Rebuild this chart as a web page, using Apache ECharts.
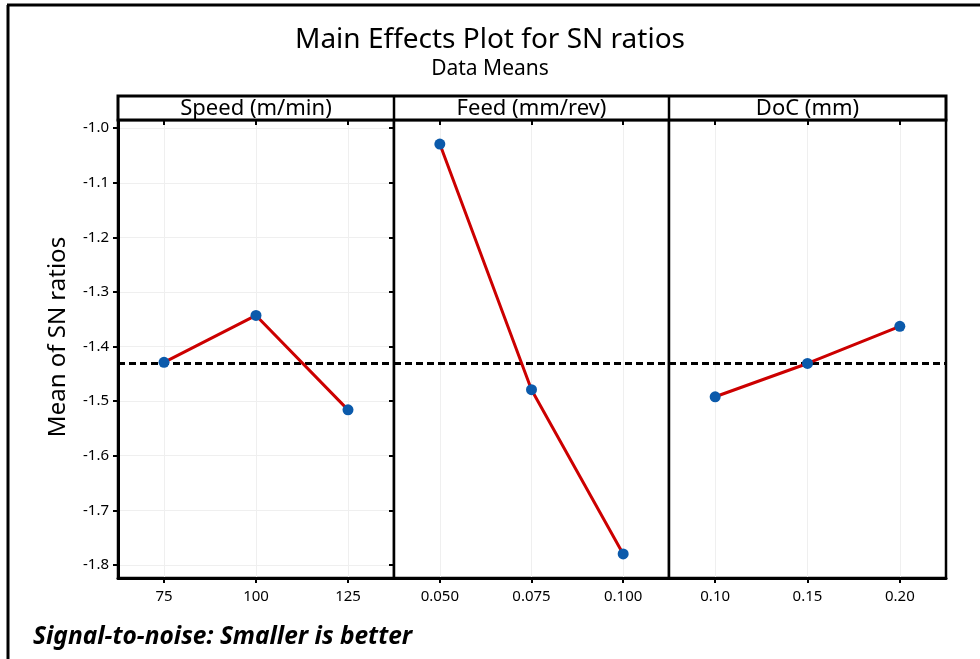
<!DOCTYPE html>
<html>
<head>
<meta charset="utf-8">
<script src="https://cdn.jsdelivr.net/npm/echarts@6/dist/echarts.min.js"></script>
<style>html,body{margin:0;padding:0;background:#fff}#c{width:980px;height:659px}</style>
</head>
<body>
<div id="c"></div>
<script>
const panelTitles = ['Speed (m/min)', 'Feed (mm/rev)', 'DoC (mm)'];
const speedLevels = [75, 100, 125];
const speedSN = [-1.429, -1.343, -1.516];
const feedLevels = [0.050, 0.075, 0.100];
const feedSN = [-1.029, -1.479, -1.780];
const docLevels = [0.10, 0.15, 0.20];
const docSN = [-1.492, -1.431, -1.363];
const yTicks = [-1.8, -1.7, -1.6, -1.5, -1.4, -1.3, -1.2, -1.1, -1.0];
const xTickDecimals = [0, 3, 2];

const allVals = speedSN.concat(feedSN, docSN);
const grandMean = allVals.reduce((a, b) => a + b, 0) / allVals.length;

const levels = [speedLevels, feedLevels, docLevels];
const values = [speedSN, feedSN, docSN];

const FONT = 'Noto Sans';
const yMin = -1.824, yMax = -0.985;
const gridL = [118, 394, 669], gridW = [276, 275, 277];
const gridTop = 120, gridH = 458;

const grids = [], xAxes = [], yAxes = [], series = [];
for (let i = 0; i < 3; i++) {
  const lv = levels[i];
  const step = lv[1] - lv[0];
  const xmin = lv[0] - step / 2, xmax = lv[2] + step / 2;
  grids.push({ left: gridL[i], top: gridTop, width: gridW[i], height: gridH, show: true,
    borderColor: '#000', borderWidth: 2.5, backgroundColor: '#fff', containLabel: false });
  xAxes.push({ type: 'value', gridIndex: i, min: xmin, max: xmax,
    axisLine: { show: true, onZero: false, lineStyle: { color: '#000', width: 3 } },
    axisTick: { show: true, customValues: lv, length: 5, lineStyle: { color: '#000', width: 2 } },
    axisLabel: { show: true, customValues: lv, color: '#000', fontFamily: FONT, fontSize: 15, margin: 11,
      formatter: v => Number(v).toFixed(xTickDecimals[i]) },
    splitLine: { show: true, lineStyle: { color: '#efefef', width: 1 } }
  });
  yAxes.push({ type: 'value', gridIndex: i, min: yMin, max: yMax, show: i === 0,
    name: i === 0 ? 'Mean of SN ratios' : '', nameLocation: 'middle', nameGap: 48,
    nameTextStyle: { color: '#000', fontFamily: FONT, fontSize: 24, padding: [0, 0, 0, 24] },
    axisLine: { show: true, lineStyle: { color: '#000', width: 3 } },
    axisTick: { show: true, customValues: yTicks, length: 5, lineStyle: { color: '#000', width: 2 } },
    axisLabel: { show: true, customValues: yTicks, color: '#000', fontFamily: FONT, fontSize: 15, margin: 9,
      formatter: v => Number(v).toFixed(1) },
    splitLine: { show: true, lineStyle: { color: '#efefef', width: 1 } }
  });
  series.push({ type: 'line', xAxisIndex: i, yAxisIndex: i,
    data: lv.map((x, k) => [x, values[i][k]]),
    symbol: 'circle', symbolSize: 11,
    itemStyle: { color: '#0b5aab' },
    lineStyle: { color: '#cc0000', width: 3 },
    z: 5,
    markLine: { silent: true, symbol: 'none', label: { show: false },
      lineStyle: { color: '#000', type: [7, 4], width: 3 },
      data: [{ yAxis: grandMean }] }
  });
}
// inner halves of crossing ticks
for (let i = 0; i < 3; i++) {
  const lv = levels[i];
  const step = lv[1] - lv[0];
  xAxes.push({ type: 'value', gridIndex: i, min: lv[0] - step / 2, max: lv[2] + step / 2,
    axisLine: { show: false }, splitLine: { show: false }, axisLabel: { show: false },
    axisTick: { show: true, inside: true, customValues: lv, length: 5, lineStyle: { color: '#000', width: 2 } } });
}
yAxes.push({ type: 'value', gridIndex: 0, min: yMin, max: yMax,
  axisLine: { show: false }, splitLine: { show: false }, axisLabel: { show: false },
  axisTick: { show: true, inside: true, customValues: yTicks, length: 5, lineStyle: { color: '#000', width: 2 } } });

const graphics = [
  { type: 'line', shape: { x1: 7, y1: 5, x2: 980, y2: 5 }, style: { stroke: '#000', lineWidth: 3 }, z: 100 },
  { type: 'line', shape: { x1: 8, y1: 5, x2: 8, y2: 659 }, style: { stroke: '#000', lineWidth: 3 }, z: 100 },
  { type: 'rect', shape: { x: 118, y: 96, width: 828, height: 24 }, style: { fill: '#fff', stroke: '#000', lineWidth: 3 }, z: 100 },
  { type: 'line', shape: { x1: 394, y1: 96, x2: 394, y2: 120 }, style: { stroke: '#000', lineWidth: 2.5 }, z: 101 },
  { type: 'line', shape: { x1: 669, y1: 96, x2: 669, y2: 120 }, style: { stroke: '#000', lineWidth: 2.5 }, z: 101 },
  { type: 'text', x: 33, y: 637, z: 100,
    style: { text: 'Signal-to-noise: Smaller is better', fill: '#000', font: 'italic bold 24.5px "Noto Sans"', verticalAlign: 'middle' } }
];
for (let i = 0; i < 3; i++) {
  graphics.push({ type: 'text', z: 102, x: gridL[i] + gridW[i] / 2, y: 109,
    style: { text: panelTitles[i], fill: '#000', font: '22px "Noto Sans"', align: 'center', verticalAlign: 'middle' } });
}

const chart = echarts.init(document.getElementById('c'), null, { renderer: 'canvas' });
chart.setOption({
  backgroundColor: '#fff',
  animation: false,
  title: [
    { text: 'Main Effects Plot for SN ratios', left: 'center', top: 21,
      textStyle: { color: '#000', fontFamily: FONT, fontSize: 28, fontWeight: 'normal' } },
    { text: 'Data Means', left: 'center', top: 54,
      textStyle: { color: '#000', fontFamily: FONT, fontSize: 21, fontWeight: 'normal' } }
  ],
  grid: grids,
  xAxis: xAxes,
  yAxis: yAxes,
  series: series,
  graphic: graphics
});
</script>
</body>
</html>
